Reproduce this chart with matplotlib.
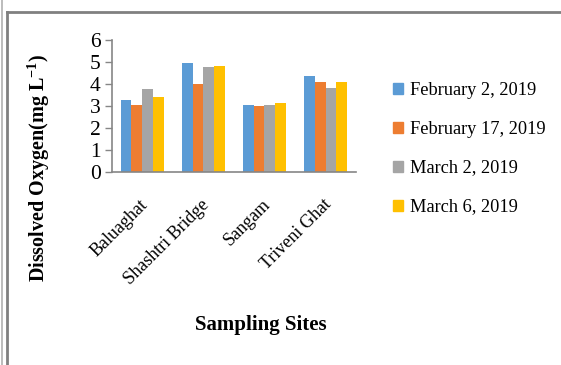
import matplotlib.pyplot as plt
import numpy as np
from matplotlib.lines import Line2D
from matplotlib.patches import Patch

sites = ['Baluaghat', 'Shashtri Bridge', 'Sangam', 'Triveni Ghat']
dates = ['February 2, 2019', 'February 17, 2019', 'March 2, 2019', 'March 6, 2019']
feb02 = [3.27, 4.97, 3.04, 4.37]
feb17 = [3.04, 4.00, 3.01, 4.07]
mar02 = [3.77, 4.77, 3.04, 3.83]
mar06 = [3.42, 4.84, 3.13, 4.10]
colors = ['#5B9BD5', '#ED7D31', '#A5A5A5', '#FFC000']

plt.rcParams['font.family'] = ['Liberation Serif', 'DejaVu Serif']
plt.rcParams['mathtext.fontset'] = 'custom'
plt.rcParams['mathtext.rm'] = 'Liberation Serif'
plt.rcParams['mathtext.bf'] = 'Liberation Serif:bold'

fig = plt.figure(figsize=(5.61, 3.65), dpi=100)
ax = fig.add_axes([0.1996, 0.5288, 0.435, 0.3616])

x = np.arange(len(sites))
w = 0.18
series = [feb02, feb17, mar02, mar06]
for i, vals in enumerate(series):
    ax.bar(x + (i - 1.5) * w, vals, w, color=colors[i], label=dates[i])

ax.set_xlim(-0.5, len(sites) - 0.5)
ax.set_ylim(0, 6)
ax.set_yticks(range(0, 7))
for s in ['top', 'right']:
    ax.spines[s].set_visible(False)
for s in ['left', 'bottom']:
    ax.spines[s].set_color('#868686')
    ax.spines[s].set_linewidth(1.2)
ax.tick_params(axis='y', colors='#868686', labelcolor='black', labelsize=15.5,
               length=5, width=1, pad=3)
ax.tick_params(axis='x', bottom=False, labelbottom=False)

# rotated site names under each group
trans = ax.get_xaxis_transform()
for xi, name in zip(x, sites):
    ax.text(xi + 0.05, -0.23, name, transform=trans, rotation=45,
            ha='right', va='center', rotation_mode='anchor', fontsize=13)

fig.text(0.068, 0.54, 'Dissolved Oxygen(mg L$^{\\mathbf{-1}}$)', rotation=90,
         ha='center', va='center', fontsize=14.5, fontweight='bold')
fig.text(0.465, 0.11, 'Sampling Sites', ha='center', va='center',
         fontsize=15, fontweight='bold')

handles = [Patch(color=c) for c in colors]
fig.legend(handles, dates, loc='center left', bbox_to_anchor=(0.700, 0.593),
           frameon=False, fontsize=13.2, handlelength=0.55, handleheight=0.55,
           handletextpad=0.4, labelspacing=1.2, borderpad=0, borderaxespad=0)

# outer frame lines
fig.add_artist(Line2D([1.5 / 561, 1.5 / 561], [0, 1], color='#B0B0B0', lw=1.2))
fig.add_artist(Line2D([7 / 561, 7 / 561], [0, 1 - 12 / 365], color='#808080', lw=2))
fig.add_artist(Line2D([7 / 561, 1], [1 - 12 / 365, 1 - 12 / 365], color='#808080', lw=2))

fig.savefig('out.png', dpi=100)
